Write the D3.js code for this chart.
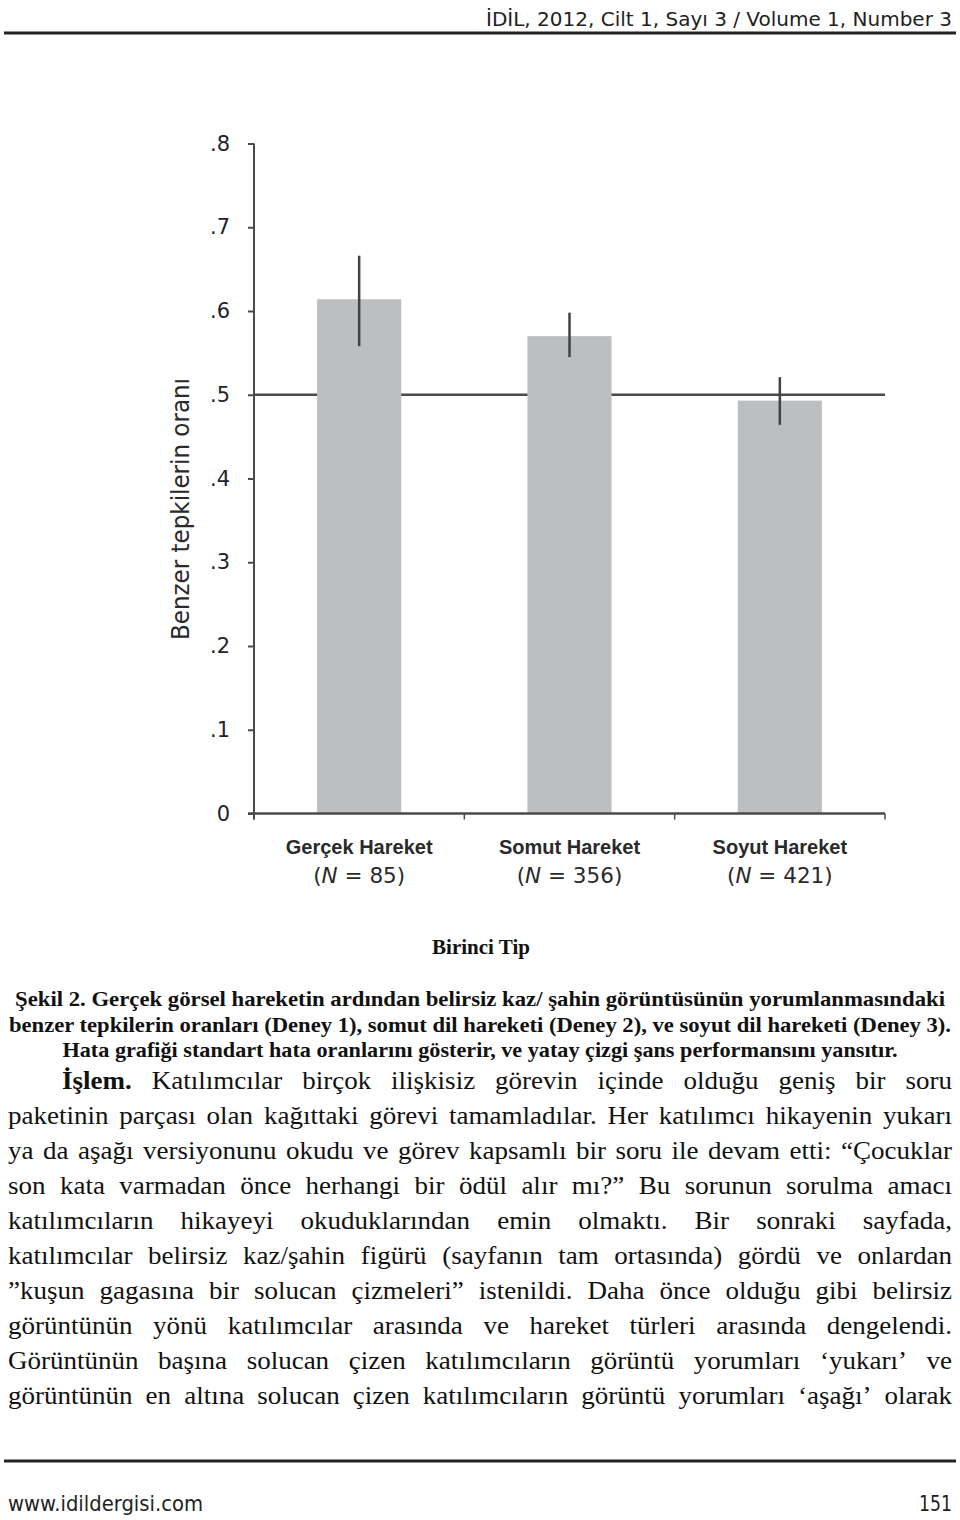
<!DOCTYPE html>
<html><head><meta charset="utf-8">
<script src="https://cdn.jsdelivr.net/npm/d3@7"></script>
<style>
html,body{margin:0;padding:0;background:#fff;}
svg{display:block;}
</style></head>
<body>
<script>
// ---------- DATA ----------
const categories = ["Gerçek Hareket", "Somut Hareket", "Soyut Hareket"];
const nValues = [85, 356, 421];
const means = [0.614, 0.570, 0.493];
const errLow = [0.558, 0.545, 0.464];
const errHigh = [0.666, 0.598, 0.521];
const yTicks = [0, 0.1, 0.2, 0.3, 0.4, 0.5, 0.6, 0.7, 0.8];
const yTickLabels = ["0", ".1", ".2", ".3", ".4", ".5", ".6", ".7", ".8"];
const chanceLevel = 0.5;
const yTitle = "Benzer tepkilerin oranı";
const xTitle = "Birinci Tip";

const headerText = "İDİL, 2012, Cilt 1, Sayı 3 / Volume 1, Number 3";
const footerLeft = "www.idildergisi.com";
const footerRight = "151";
const captionLines = [
  "Şekil 2. Gerçek görsel hareketin ardından belirsiz kaz/ şahin görüntüsünün yorumlanmasındaki",
  "benzer tepkilerin oranları (Deney 1), somut dil hareketi (Deney 2), ve soyut dil hareketi (Deney 3).",
  "Hata grafiği standart hata oranlarını gösterir, ve yatay çizgi şans performansını yansıtır."
];
const bodyLines = [
  "İşlem. Katılımcılar birçok ilişkisiz görevin içinde olduğu geniş bir soru",
  "paketinin parçası olan kağıttaki görevi tamamladılar. Her katılımcı hikayenin yukarı",
  "ya da aşağı versiyonunu okudu ve görev kapsamlı bir soru ile devam etti: “Çocuklar",
  "son kata varmadan önce herhangi bir ödül alır mı?” Bu sorunun sorulma amacı",
  "katılımcıların hikayeyi okuduklarından emin olmaktı. Bir sonraki sayfada,",
  "katılımcılar belirsiz kaz/şahin figürü (sayfanın tam ortasında) gördü ve onlardan",
  "”kuşun gagasına bir solucan çizmeleri” istenildi. Daha önce olduğu gibi belirsiz",
  "görüntünün yönü katılımcılar arasında ve hareket türleri arasında dengelendi.",
  "Görüntünün başına solucan çizen katılımcıların görüntü yorumları ‘yukarı’ ve",
  "görüntünün en altına solucan çizen katılımcıların görüntü yorumları ‘aşağı’ olarak"
];
const boldWords = ["İşlem."];

// ---------- LAYOUT ----------
const W = 960, H = 1520;
const svg = d3.select("body").append("svg").attr("width", W).attr("height", H);
svg.append("rect").attr("width", W).attr("height", H).attr("fill", "#fff");

const axisColor = "#4a4a4a";
const x = d3.scaleBand().domain(categories).range([254, 885]).paddingInner(0.6).paddingOuter(0.3);
const y = d3.scaleLinear().domain([0, 0.8]).range([813.5, 143.5]);

// header
svg.append("text").attr("x", 952).attr("y", 26).attr("text-anchor", "end")
  .attr("font-family", "DejaVu Sans").attr("font-size", 20).attr("fill", "#222")
  .attr("textLength", 466).attr("lengthAdjust", "spacingAndGlyphs").text(headerText);
svg.append("line").attr("x1", 4).attr("x2", 956).attr("y1", 33).attr("y2", 33)
  .attr("stroke", "#222").attr("stroke-width", 3);

// chance line (behind bars)
svg.append("line").attr("x1", x.range()[0]).attr("x2", x.range()[1])
  .attr("y1", y(chanceLevel)).attr("y2", y(chanceLevel))
  .attr("stroke", axisColor).attr("stroke-width", 2.5);

// bars
svg.append("g").selectAll("rect").data(categories).join("rect")
  .attr("x", d => x(d)).attr("width", x.bandwidth())
  .attr("y", (d, i) => y(means[i])).attr("height", (d, i) => y(0) - y(means[i]))
  .attr("fill", "#bdbec0");

// error bars
svg.append("g").selectAll("line").data(categories).join("line")
  .attr("x1", d => x(d) + x.bandwidth() / 2).attr("x2", d => x(d) + x.bandwidth() / 2)
  .attr("y1", (d, i) => y(errHigh[i])).attr("y2", (d, i) => y(errLow[i]))
  .attr("stroke", "#424242").attr("stroke-width", 2.5);

// y axis
const yAxis = d3.axisLeft(y).tickValues(yTicks).tickFormat((d, i) => yTickLabels[i])
  .tickSize(6).tickPadding(18).tickSizeOuter(0);
const gy = svg.append("g").attr("transform", "translate(254,0)").call(yAxis);
gy.select(".domain").remove();
gy.selectAll(".tick line").attr("stroke", axisColor).attr("stroke-width", 2);
gy.selectAll(".tick text").attr("font-family", "DejaVu Sans").attr("font-size", 21).attr("fill", "#23232b");
svg.append("line").attr("x1", 254).attr("x2", 254).attr("y1", y(0.8)).attr("y2", y(0) + 6)
  .attr("stroke", axisColor).attr("stroke-width", 2);

// x axis
svg.append("line").attr("x1", 248).attr("x2", 885).attr("y1", y(0)).attr("y2", y(0))
  .attr("stroke", axisColor).attr("stroke-width", 2.5);
const bounds = categories.map(d => x(d) - x.step() * x.paddingInner() / 2 ).slice(1);
const xticks = [x.range()[0], ...bounds, x.range()[1]];
svg.append("g").selectAll("line").data(xticks).join("line")
  .attr("x1", d => d).attr("x2", d => d).attr("y1", y(0)).attr("y2", y(0) + 6)
  .attr("stroke", axisColor).attr("stroke-width", 1.5);

// category labels
const lab = svg.append("g").selectAll("g").data(categories).join("g")
  .attr("transform", d => `translate(${x(d) + x.bandwidth() / 2},0)`);
lab.append("text").attr("y", 854).attr("text-anchor", "middle")
  .attr("font-family", "Liberation Sans, Arial").attr("font-weight", "bold").attr("font-size", 20)
  .attr("fill", "#2a2a2a").text(d => d);
const nt = lab.append("text").attr("y", 883).attr("text-anchor", "middle")
  .attr("font-family", "DejaVu Sans").attr("font-size", 21.5).attr("fill", "#2a2a2a");
nt.append("tspan").text("(");
nt.append("tspan").attr("font-style", "italic").text("N");
nt.append("tspan").text((d, i) => " = " + nValues[i] + ")");

// y title
svg.append("text").attr("transform", "translate(189,509) rotate(-90)").attr("text-anchor", "middle")
  .attr("font-family", "DejaVu Sans").attr("font-size", 24).attr("fill", "#2a2a2a")
  .attr("textLength", 262).attr("lengthAdjust", "spacingAndGlyphs").text(yTitle);

// x title
svg.append("text").attr("x", 481).attr("y", 954).attr("text-anchor", "middle")
  .attr("font-family", "Liberation Serif").attr("font-weight", "bold").attr("font-size", 21)
  .attr("fill", "#111").text(xTitle);

// caption
const capW = [930, 942, 835];
captionLines.forEach((t, i) => {
  svg.append("text").attr("x", 480).attr("y", 1006 + i * 25.5).attr("text-anchor", "middle")
    .attr("font-family", "Liberation Serif").attr("font-weight", "bold").attr("font-size", 21)
    .attr("fill", "#111").attr("textLength", capW[i]).attr("lengthAdjust", "spacingAndGlyphs").text(t);
});

// body (justified)
const bodyFS = 25, hScale = 1.08;
bodyLines.forEach((line, i) => {
  const x0 = i === 0 ? 62 : 8, x1 = 952, yy = 1089 + i * 35;
  const words = line.split(" ");
  const g = svg.append("g");
  const nodes = words.map(w => g.append("text").attr("y", yy)
    .attr("font-family", "Liberation Serif").attr("font-size", bodyFS)
    .attr("font-weight", boldWords.includes(w) ? "bold" : "normal")
    .attr("fill", "#111").text(w));
  const widths = nodes.map(n => n.node().getComputedTextLength());
  const total = d3.sum(widths);
  let scale = hScale;
  let gap = (x1 - x0 - total * scale) / (words.length - 1);
  if (gap < 6) { gap = 6; scale = (x1 - x0 - gap * (words.length - 1)) / total; }
  let cx = x0;
  nodes.forEach((n, k) => {
    n.attr("x", cx).attr("textLength", widths[k] * scale).attr("lengthAdjust", "spacingAndGlyphs");
    cx += widths[k] * scale + gap;
  });
});

// footer
svg.append("line").attr("x1", 4).attr("x2", 956).attr("y1", 1461).attr("y2", 1461)
  .attr("stroke", "#222").attr("stroke-width", 3);
svg.append("text").attr("x", 8).attr("y", 1511).attr("font-family", "DejaVu Sans").attr("font-size", 21)
  .attr("fill", "#222").attr("textLength", 195).attr("lengthAdjust", "spacingAndGlyphs").text(footerLeft);
svg.append("text").attr("x", 952).attr("y", 1511).attr("text-anchor", "end").attr("font-family", "DejaVu Sans")
  .attr("font-size", 21).attr("fill", "#222").attr("textLength", 33).attr("lengthAdjust", "spacingAndGlyphs").text(footerRight);
</script>
</body></html>
